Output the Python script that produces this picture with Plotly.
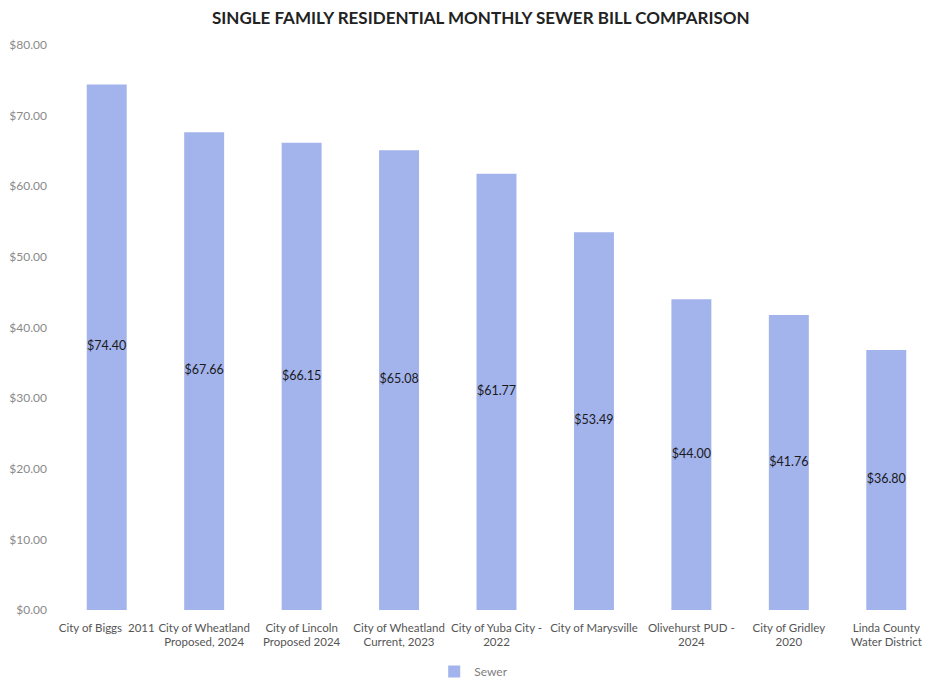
import plotly.graph_objects as go

categories = [
    "City of Biggs\u00a0\u00a02011",
    "City of Wheatland<br>Proposed, 2024",
    "City of Lincoln<br>Proposed 2024",
    "City of Wheatland<br>Current, 2023",
    "City of Yuba City -<br>2022",
    "City of Marysville",
    "Olivehurst PUD -<br>2024",
    "City of Gridley<br>2020",
    "Linda County<br>Water District",
]
sewer = [74.40, 67.66, 66.15, 65.08, 61.77, 53.49, 44.00, 41.76, 36.80]
y_ticks = [0, 10, 20, 30, 40, 50, 60, 70, 80]
y_tick_labels = ["$%d.00" % v for v in y_ticks]

bar_color = "#A3B3EC"

fig = go.Figure()
fig.add_trace(go.Bar(
    x=categories, y=sewer, name="Sewer",
    marker=dict(color=bar_color, line=dict(width=0)),
    hoverinfo="y",
))
fig.add_trace(go.Scatter(
    x=categories, y=[v / 2 for v in sewer],
    mode="text",
    text=["$%.2f" % v for v in sewer],
    textfont=dict(family="Lato", size=12.5, color="#1a1a1a"),
    showlegend=False, hoverinfo="skip",
))

fig.update_layout(
    width=927, height=673,
    paper_bgcolor="white", plot_bgcolor="white",
    margin=dict(l=50, r=0, t=37, b=71),
    title=dict(text="<b>SINGLE FAMILY RESIDENTIAL MONTHLY SEWER BILL COMPARISON</b>",
               x=0.51, xanchor="center", y=0.985, yanchor="middle",
               font=dict(family="Lato", size=17, color="#222222")),
    bargap=0.59,
    showlegend=True,
    legend=dict(orientation="h", x=0.474, xanchor="center",
                yref="container", y=0.014, yanchor="middle",
                font=dict(family="Lato", size=12, color="#808080")),
    xaxis=dict(showgrid=False, showline=False, zeroline=False, automargin=False,
               ticklabelstandoff=9,
               tickfont=dict(family="Lato", size=11.5, color="#555555"), tickangle=0),
    yaxis=dict(range=[0, 80], tickvals=y_ticks, ticktext=y_tick_labels, automargin=False,
               showgrid=False, zeroline=False, showline=False, ticklabelstandoff=10,
               tickfont=dict(family="Lato", size=12, color="#8a8a8a")),
)

fig.write_html("out.html")
